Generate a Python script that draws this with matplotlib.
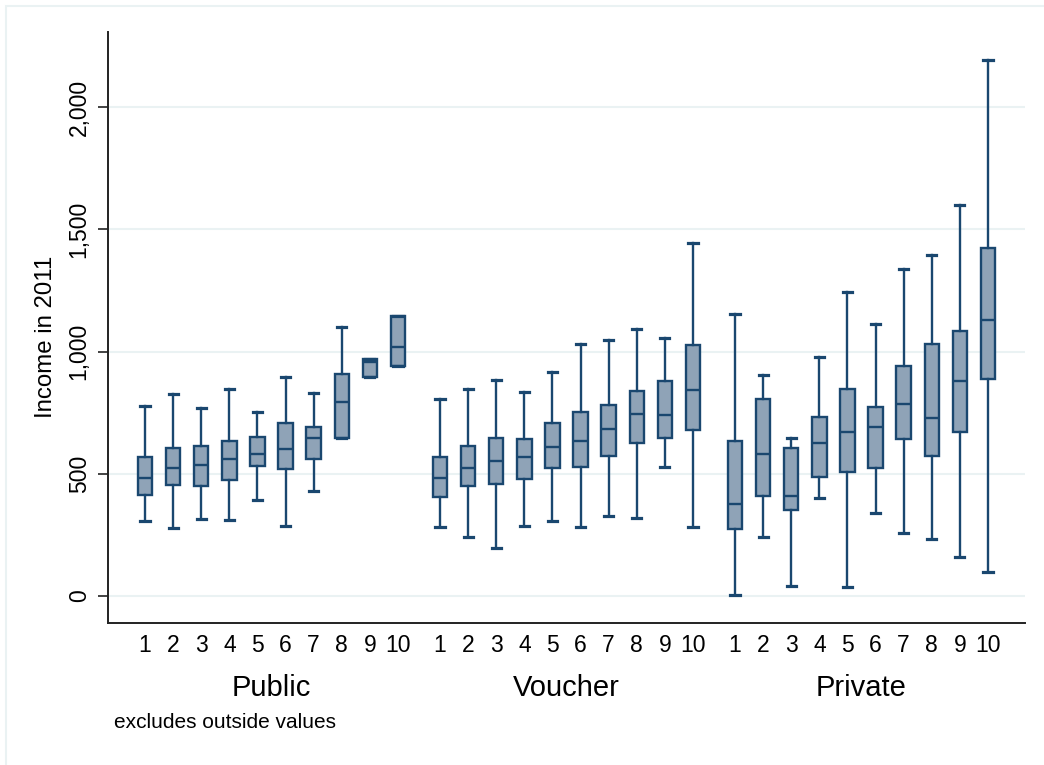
import matplotlib
matplotlib.use("Agg")
import matplotlib.pyplot as plt
from matplotlib.patches import Rectangle
from matplotlib.ticker import FuncFormatter

plt.rcParams["font.family"] = ["Liberation Sans", "DejaVu Sans"]

groups = ["Public", "Voucher", "Private"]
deciles = [str(i) for i in range(1, 11)]

# Box statistics per decile: lower whisker, Q1, median, Q3, upper whisker
public_lo = [308, 278, 314, 312, 393, 285, 431, 646, 896, 943]
public_q1 = [412, 453, 450, 474, 534, 519, 559, 646, 896, 943]
public_med = [485, 524, 537, 559, 583, 601, 648, 793, 956, 1020]
public_q3 = [567, 607, 613, 634, 652, 709, 693, 908, 971, 1147]
public_hi = [778, 826, 769, 849, 753, 898, 830, 1102, 971, 1147]

voucher_lo = [281, 243, 195, 286, 307, 284, 327, 320, 530, 282]
voucher_q1 = [406, 450, 458, 477, 525, 529, 574, 627, 648, 678]
voucher_med = [481, 522, 552, 570, 611, 633, 684, 746, 742, 841]
voucher_q3 = [570, 613, 645, 642, 709, 754, 780, 840, 879, 1025]
voucher_hi = [807, 847, 882, 833, 915, 1031, 1047, 1092, 1054, 1445]

private_lo = [3, 243, 40, 403, 38, 341, 259, 233, 160, 98]
private_q1 = [275, 410, 352, 488, 506, 525, 644, 571, 671, 888]
private_med = [378, 582, 409, 627, 671, 690, 784, 728, 878, 1130]
private_q3 = [635, 808, 607, 731, 845, 773, 941, 1031, 1084, 1425]
private_hi = [1155, 903, 646, 976, 1243, 1112, 1339, 1396, 1601, 2194]

y_ticks = [0, 500, 1000, 1500, 2000]

series = [
    (public_lo, public_q1, public_med, public_q3, public_hi),
    (voucher_lo, voucher_q1, voucher_med, voucher_q3, voucher_hi),
    (private_lo, private_q1, private_med, private_q3, private_hi),
]

EDGE = "#1a476f"
FILL = "#8fa3b7"
GRID = "#eaf2f3"
GROUP_STEP = 10.5

fig = plt.figure(figsize=(10.44, 7.65), dpi=100)
ax = fig.add_axes([108 / 1044, (765 - 623) / 765, (1025 - 108) / 1044, (623 - 32) / 765])

stats, positions, labels = [], [], []
for g, (lo, q1, med, q3, hi) in enumerate(series):
    for i in range(len(deciles)):
        stats.append(dict(whislo=lo[i], q1=q1[i], med=med[i], q3=q3[i],
                          whishi=hi[i], fliers=[]))
        positions.append(g * GROUP_STEP + i)
        labels.append(deciles[i])

lw = 1.7
ax.bxp(stats, positions=positions, widths=0.51, capwidths=0.33,
       patch_artist=True, showfliers=False,
       boxprops=dict(facecolor=FILL, edgecolor=EDGE, linewidth=lw),
       medianprops=dict(color=EDGE, linewidth=lw),
       whiskerprops=dict(color=EDGE, linewidth=lw),
       capprops=dict(color=EDGE, linewidth=lw + 0.6))

ax.set_xlim(-1.32, 31.32)
ax.set_ylim(-110, 2307)

ax.set_yticks(y_ticks)
ax.yaxis.set_major_formatter(FuncFormatter(lambda v, p: f"{int(v):,}"))
for lab in ax.get_yticklabels():
    lab.set_rotation(90)
    lab.set_va("center")
ax.tick_params(axis="y", length=7.5, width=1.2, pad=5, labelsize=16.5, color="#222222")
ax.set_xticks(positions)
ax.set_xticklabels(labels)
ax.tick_params(axis="x", length=0, pad=8, labelsize=16.5)

ax.yaxis.grid(True, color=GRID, linewidth=1.5)
ax.set_axisbelow(True)

for side in ("top", "right"):
    ax.spines[side].set_visible(False)
for side in ("left", "bottom"):
    ax.spines[side].set_linewidth(1.4)
    ax.spines[side].set_color("#222222")

fig.text(46 / 1044, 1 - 337 / 765, "Income in 2011", rotation=90,
         ha="center", va="center", fontsize=17.3)

for g, name in enumerate(groups):
    ax.text(g * GROUP_STEP + 4.5, (688 - 623) / -(623 - 32), name,
            transform=ax.get_xaxis_transform(), ha="center", va="center",
            fontsize=21)

fig.text(114 / 1044, 1 - 723 / 765, "excludes outside values",
         ha="left", va="center", fontsize=15)

fig.add_artist(Rectangle((6 / 1044, -0.5), 2, 0.5 + (765 - 6) / 765,
                         transform=fig.transFigure, fill=False,
                         edgecolor=GRID, linewidth=1.5))

fig.savefig("out.png", dpi=100)
